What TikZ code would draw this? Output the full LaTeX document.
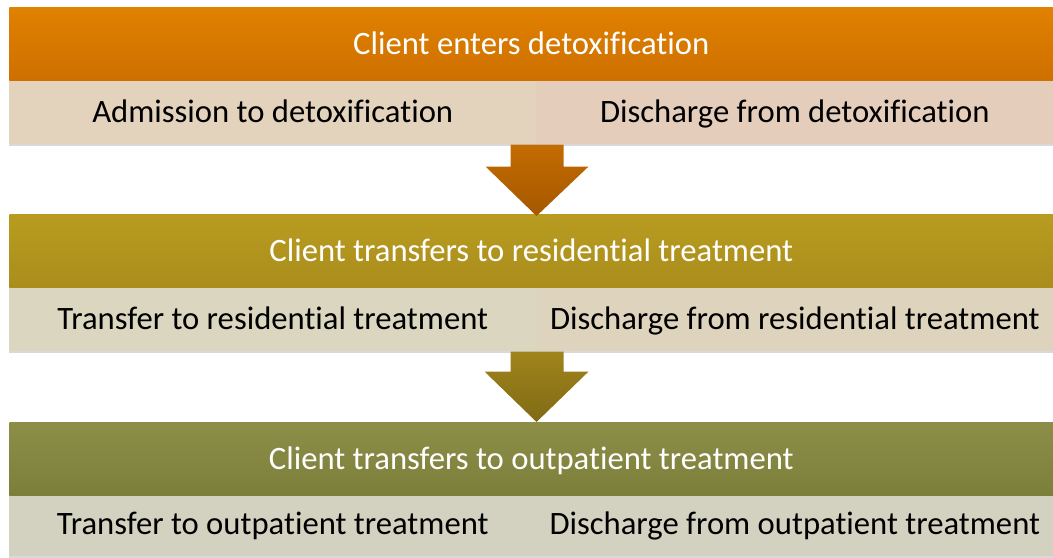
\documentclass[tikz,border=0pt]{standalone}
\usepackage{fontspec}
\setmainfont{Carlito}[Ligatures=NoCommon]
\usetikzlibrary{calc,shadows}

\tikzset{
  header/.style={anchor=north west, minimum width=783pt, minimum height=54.75pt,
    inner sep=0pt, text=white, font=\fontsize{24.5}{28}\selectfont,
    text height=15.6pt, text depth=0pt},
  cellL/.style={anchor=north west, minimum width=395.25pt, minimum height=48pt,
    inner sep=0pt, text=black, font=\fontsize{24.5}{28}\selectfont,
    text height=15.6pt, text depth=0pt,
    drop shadow={opacity=0.3, shadow xshift=0pt, shadow yshift=-1.5pt}},
  cellR/.style={cellL, minimum width=387.75pt}
}

\begin{document}
\begin{tikzpicture}[x=0.75pt,y=-0.75pt]
\definecolor{detoxTop}{RGB}{224,129,0}
\definecolor{detoxBot}{RGB}{206,112,0}
\definecolor{detoxCellL}{RGB}{227,211,189}
\definecolor{detoxCellR}{RGB}{229,205,187}
\definecolor{resiTop}{RGB}{184,156,32}
\definecolor{resiBot}{RGB}{170,141,28}
\definecolor{resiCellL}{RGB}{219,214,192}
\definecolor{resiCellR}{RGB}{222,212,189}
\definecolor{outpTop}{RGB}{140,142,72}
\definecolor{outpBot}{RGB}{124,127,58}
\definecolor{outpCell}{RGB}{211,210,193}
\definecolor{arrowOneTop}{RGB}{195,108,0}
\definecolor{arrowOneBot}{RGB}{165,88,0}
\definecolor{arrowTwoTop}{RGB}{160,132,28}
\definecolor{arrowTwoBot}{RGB}{128,106,20}

\useasboundingbox (0,0) rectangle (1053,557);

% stage 1
\node[cellL, fill=detoxCellL] (detoxL) at (9,80) {Admission to detoxification};
\node[cellR, fill=detoxCellR] (detoxR) at (536,80) {Discharge from detoxification};
\node[header, top color=detoxTop, bottom color=detoxBot] (detox) at (9,7) {Client enters detoxification};

% stage 2
\node[cellL, fill=resiCellL] (resiL) at (9,287) {Transfer to residential treatment};
\node[cellR, fill=resiCellR] (resiR) at (536,287) {Discharge from residential treatment};
\node[header, top color=resiTop, bottom color=resiBot] (resi) at (9,214) {Client transfers to residential treatment};

% stage 3
\node[cellL, fill=outpCell] (outpL) at (9,492) {Transfer to outpatient treatment};
\node[cellR, fill=outpCell] (outpR) at (536,492) {Discharge from outpatient treatment};
\node[header, top color=outpTop, bottom color=outpBot] (outp) at (9,422) {Client transfers to outpatient treatment};

% arrows
\coordinate (tipOne) at (resi.north -| detoxL.south east);
\shade[top color=arrowOneTop, bottom color=arrowOneBot]
  ($(detoxL.south east)+(-26,0)$) -- ++(0,22) -- ++(-25,0) -- ($(tipOne)+(0,2)$)
  -- ($(detoxL.south east)+(52,22)$) -- ++(-25,0) -- ++(0,-22) -- cycle;
\coordinate (tipTwo) at (outp.north -| resiL.south east);
\shade[top color=arrowTwoTop, bottom color=arrowTwoBot]
  ($(resiL.south east)+(-26,0)$) -- ++(0,20) -- ++(-26,0) -- (tipTwo)
  -- ($(resiL.south east)+(52,20)$) -- ++(-25,0) -- ++(0,-20) -- cycle;
\end{tikzpicture}
\end{document}
